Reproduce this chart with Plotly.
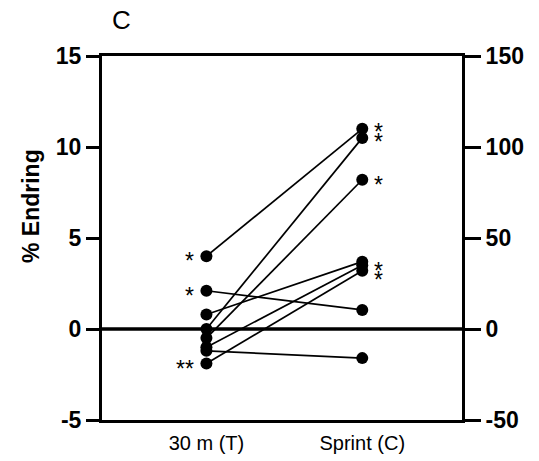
import plotly.graph_objects as go

categories = ["30 m (T)", "Sprint (C)"]
pre_values = [4.0, 2.1, 0.8, 0.0, -0.5, -1.0, -1.2, -1.9]
post_values = [11.0, 1.05, 3.7, 10.5, 8.2, 3.5, -1.6, 3.2]
left_star_values = [4.0, 2.1, -1.9]
left_star_labels = ["*", "*", "**"]
right_star_values = [11.1, 10.55, 8.2, 3.45, 2.95]
right_star_labels = ["*", "*", "*", "*", "*"]
y_ticks = [-5, 0, 5, 10, 15]
y_ticklabels = ["-5", "0", "5", "10", "15"]
y2_ticks = [-50, 0, 50, 100, 150]
y2_ticklabels = ["-50", "0", "50", "100", "150"]

FONT = "Arial, 'Liberation Sans', sans-serif"

fig = go.Figure()

for a, b in zip(pre_values, post_values):
    fig.add_trace(go.Scatter(
        x=[0, 1], y=[a, b], mode="lines+markers",
        line=dict(color="black", width=1.7),
        marker=dict(color="black", size=12),
        showlegend=False, hoverinfo="skip"))

# zero line across the full plot width
fig.add_shape(type="line", xref="x domain", yref="y", x0=0, x1=1, y0=0, y1=0,
              line=dict(color="black", width=3.5))

# dummy trace for right axis
fig.add_trace(go.Scatter(x=[0], y=[0], yaxis="y2", mode="markers",
                         marker=dict(opacity=0), showlegend=False,
                         hoverinfo="skip"))

for v, t in zip(left_star_values, left_star_labels):
    fig.add_annotation(x=0, y=v, text=t, showarrow=False, xanchor="right",
                       xshift=-10, yshift=-5,
                       font=dict(family=FONT, size=23, color="black"))
for v, t in zip(right_star_values, right_star_labels):
    fig.add_annotation(x=1, y=v, text=t, showarrow=False, xanchor="left",
                       xshift=10, yshift=-5,
                       font=dict(family=FONT, size=23, color="black"))

fig.add_annotation(text="C", xref="x domain", yref="y domain",
                   x=(121 - 102) / 360, y=1 + (56 - 20) / 364,
                   xanchor="center", yanchor="middle", showarrow=False,
                   font=dict(family=FONT, size=26, color="black"))

# y-axis title (placed above the axis centre as in the reference)
fig.add_annotation(text="<b>% Endring</b>", xref="paper", yref="y domain",
                   x=-(102 - 31) / 360, y=(420 - 206) / 364, textangle=-90,
                   xanchor="center", yanchor="middle", showarrow=False,
                   font=dict(family=FONT, size=23, color="black"))

fig.update_layout(
    width=539, height=461, autosize=False,
    margin=dict(l=102, r=77, t=56, b=41, pad=0, autoexpand=False),
    plot_bgcolor="white", paper_bgcolor="white",
    font=dict(family=FONT, color="black"),
    xaxis=dict(range=[-0.67, 1.64], tickvals=[0, 1], ticktext=categories,
               showline=True, linecolor="black", linewidth=3, mirror=True,
               ticks="", showgrid=False, zeroline=False, ticklabelstandoff=3,
               automargin=False,
               tickfont=dict(family=FONT, size=20, color="black")),
    yaxis=dict(range=[-5, 15], tickvals=y_ticks, ticktext=y_ticklabels,
               showline=True, automargin=False,
               linecolor="black", linewidth=3, ticks="outside", ticklen=13,
               tickwidth=3, tickcolor="black", showgrid=False, zeroline=False,
               tickfont=dict(family=FONT, size=23, color="black", weight="bold")),
    yaxis2=dict(range=[-50, 150], tickvals=y2_ticks, ticktext=y2_ticklabels,
                overlaying="y", side="right", automargin=False,
                showline=True, linecolor="black", linewidth=3, ticks="outside",
                ticklen=16, tickwidth=3, tickcolor="black", showgrid=False,
                zeroline=False,
                tickfont=dict(family=FONT, size=23, color="black", weight="bold")),
)

fig.write_html("out.html", config={"displayModeBar": False},
               post_script="document.body.style.margin='0px';document.body.style.padding='0px';")
